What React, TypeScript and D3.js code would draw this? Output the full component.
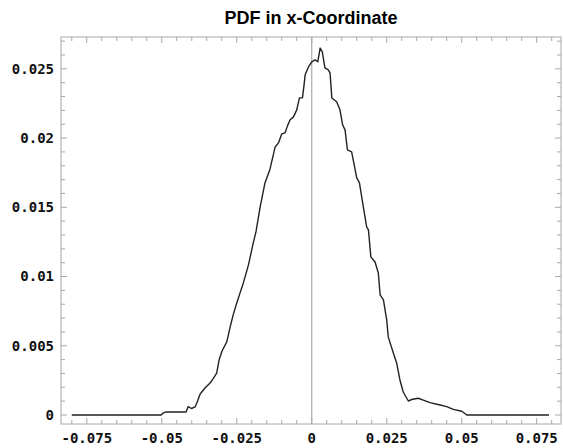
import React from "react";
import { scaleLinear, line, range } from "d3";

// x position of the particle / estimated density
const xValues = [
  -0.08, -0.0502, -0.0496, -0.0486, -0.0419, -0.0412, -0.0401, -0.0389, -0.0382, -0.0372,
  -0.0356, -0.0339, -0.0328, -0.0317, -0.0309, -0.0299, -0.0283, -0.0272, -0.0262, -0.025,
  -0.0239, -0.0228, -0.0211, -0.0195, -0.0186, -0.0172, -0.0166, -0.0156, -0.0139, -0.0122,
  -0.0111, -0.01, -0.0089, -0.0081, -0.0072, -0.0061, -0.005, -0.0041, -0.0031, -0.0026,
  -0.0022, -0.0011, 0, 0.0011, 0.002, 0.0028, 0.0035, 0.0044, 0.0055, 0.0061,
  0.0067, 0.0083, 0.0094, 0.0103, 0.0111, 0.0119, 0.0133, 0.015, 0.0159, 0.0172,
  0.0183, 0.0189, 0.0197, 0.0211, 0.0222, 0.0228, 0.0239, 0.025, 0.0255, 0.0272,
  0.0283, 0.0294, 0.0305, 0.0322, 0.0333, 0.0355, 0.0372, 0.0394, 0.0428, 0.045,
  0.0472, 0.05, 0.0517, 0.0791,
];
const pdfValues = [
  0, 0, 0.00014, 0.00022, 0.00022, 0.00061, 0.00047, 0.00058, 0.00094, 0.00152,
  0.00195, 0.00231, 0.00265, 0.00303, 0.00397, 0.00462, 0.0053, 0.00636, 0.00723, 0.00809,
  0.00882, 0.00954, 0.01084, 0.01243, 0.01322, 0.01503, 0.01568, 0.01676, 0.01777, 0.01936,
  0.01965, 0.0203, 0.02038, 0.02088, 0.02132, 0.02153, 0.02204, 0.0229, 0.0229, 0.02377,
  0.02457, 0.02514, 0.02551, 0.02565, 0.02551, 0.0265, 0.02625, 0.02507, 0.02493, 0.02471,
  0.0229, 0.02262, 0.02204, 0.02095, 0.02059, 0.01915, 0.019, 0.01712, 0.01676, 0.01503,
  0.01358, 0.01337, 0.01142, 0.01105, 0.01026, 0.00867, 0.00831, 0.00686, 0.00564, 0.00448,
  0.00376, 0.00253, 0.00166, 0.00101, 0.00112, 0.00121, 0.00108, 0.00089, 0.00072, 0.0006,
  0.00041, 0.00027, 0, 0,
];

const xTicks = [-0.075, -0.05, -0.025, 0, 0.025, 0.05, 0.075];
const xTickLabels = ["-0.075", "-0.05", "-0.025", "0", "0.025", "0.05", "0.075"];
const yTicks = [0, 0.005, 0.01, 0.015, 0.02, 0.025];
const yTickLabels = ["0", "0.005", "0.01", "0.015", "0.02", "0.025"];

const W = 563;
const H = 448;
const left = 61, right = 561, top = 37, bottom = 424;
const frameColor = "#a8a8a8";
const labelFont = "'DejaVu Sans Mono', monospace";

const App = () => {
  const x = scaleLinear().domain([-0.0836, 0.0831]).range([left, right]);
  const y = scaleLinear().domain([-0.00065, 0.0273]).range([bottom, top]);

  const pts: [number, number][] = xValues.map((v, i) => [v, pdfValues[i]]);
  const path = line<[number, number]>()
    .x((d) => x(d[0]))
    .y((d) => y(d[1]))(pts);

  // minor ticks every 0.005 on x, 0.001 on y
  const xMinor = range(-80, 81, 5).map((d) => d / 1000);
  const yMinor = range(0, 28, 1).map((d) => d / 1000);

  return (
    <svg width={W} height={H} style={{ position: "absolute", left: 0, top: 0, background: "#fff" }}>
      <text x={311} y={24} textAnchor="middle"
        style={{ fontFamily: "'Liberation Sans Narrow', 'Arial Narrow', 'Liberation Sans', sans-serif", fontWeight: "bold", fontSize: 18 }}>
        PDF in x-Coordinate
      </text>

      {/* frame */}
      <rect x={left} y={top} width={right - left} height={bottom - top} fill="none" stroke={frameColor} strokeWidth={1} />

      {/* x ticks, bottom and top */}
      {xMinor.map((d, i) => {
        const major = xTicks.some((t) => Math.abs(t - d) < 1e-9);
        const len = major ? 6 : 4;
        return (
          <g key={"xt" + i} stroke={frameColor}>
            <line x1={x(d)} x2={x(d)} y1={bottom} y2={bottom - len} />
            <line x1={x(d)} x2={x(d)} y1={top} y2={top + len} />
          </g>
        );
      })}
      {/* y ticks, left and right */}
      {yMinor.map((d, i) => {
        const major = yTicks.some((t) => Math.abs(t - d) < 1e-9);
        const len = major ? 6 : 4;
        return (
          <g key={"yt" + i} stroke={frameColor}>
            <line x1={left} x2={left + len} y1={y(d)} y2={y(d)} />
            <line x1={right} x2={right - len} y1={y(d)} y2={y(d)} />
          </g>
        );
      })}

      {/* vertical axis at x = 0 */}
      <line x1={x(0)} x2={x(0)} y1={top} y2={bottom} stroke={frameColor} strokeWidth={1.2} />

      <path d={path || ""} fill="none" stroke="#222" strokeWidth={1.4} strokeLinejoin="round" />

      {xTicks.map((t, i) => (
        <text key={"xl" + i} x={x(t)} y={443} textAnchor="middle"
          style={{ fontFamily: labelFont, fontWeight: "bold", fontSize: 14 }} fill="#111">
          {xTickLabels[i]}
        </text>
      ))}
      {yTicks.map((t, i) => (
        <text key={"yl" + i} x={54} y={y(t)} dy="0.35em" textAnchor="end"
          style={{ fontFamily: labelFont, fontWeight: "bold", fontSize: 14 }} fill="#111">
          {yTickLabels[i]}
        </text>
      ))}
    </svg>
  );
};

export default App;
